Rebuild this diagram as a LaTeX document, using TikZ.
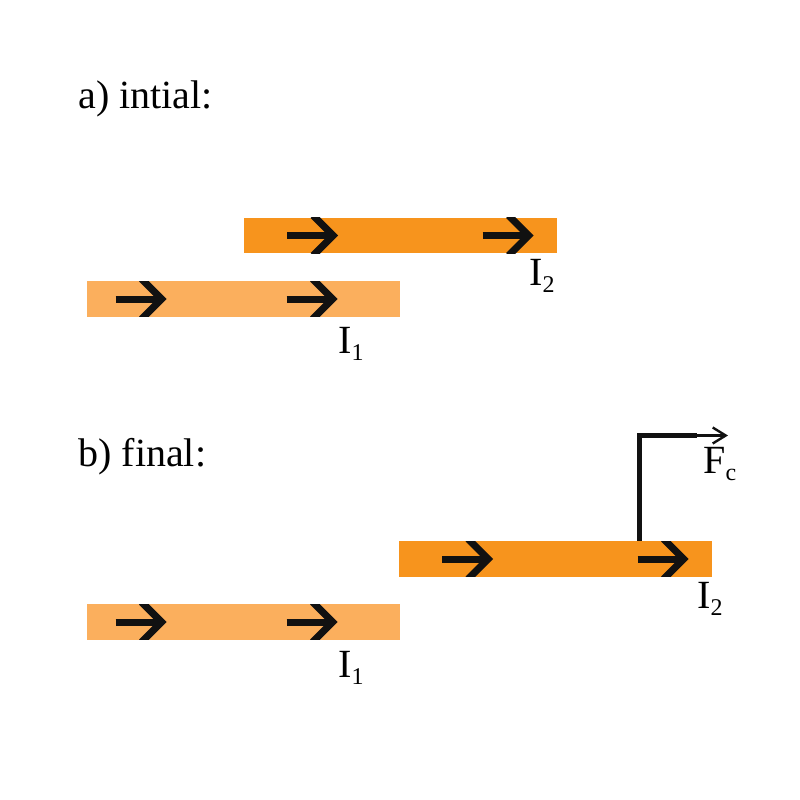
\documentclass[tikz,border=0pt]{standalone}
\usepackage{fontspec}
\setmainfont{Liberation Serif}
\usetikzlibrary{arrows.meta,calc}
\definecolor{wirelight}{HTML}{FBAF5D}
\definecolor{wiredark}{HTML}{F7941D}
\definecolor{ink}{HTML}{111111}
\tikzset{
  font=\fontsize{20}{24}\selectfont,
  wire/.style={inner sep=0pt,minimum width=156.5pt,minimum height=17.75pt},
  shaft/.style={line width=3.5pt,draw=ink},
  barb/.style={line width=3.6pt,draw=ink,line join=miter},
  force/.style={line width=2.5pt,draw=ink,line join=miter},
  fvec/.style={line width=1.2pt,draw=ink,-{Straight Barb[length=6.5pt,width=8pt]}},
  lbl/.style={inner sep=0pt,anchor=base west},
  curarrow/.pic={
    \clip (-2,-17.75) rectangle (60,17.75);
    \draw[shaft] (0,0) -- (44,0);
    \draw[barb] (26,-20) -- (46,0) -- (26,20);
  },
}
\newcommand{\csub}[1]{\raisebox{-3.5pt}{\fontsize{12}{12}\selectfont #1}}

\begin{document}
\begin{tikzpicture}[x=0.5pt,y=-0.5pt]
  \useasboundingbox (0,0) rectangle (800,800);

  % a) two wires, side by side
  \node[lbl] (capa) at (78,108) {a) intial:};
  \node[wire,fill=wiredark] (a2) at (400.5,235.5) {};
  \node[wire,fill=wirelight] (a1) at (243.5,299) {};
  \foreach \dx in {43.5,239} \pic at ($(a2.west)+(\dx,0)$) {curarrow};
  \foreach \dx in {29,200} \pic at ($(a1.west)+(\dx,0)$) {curarrow};
  \node[lbl] (i2a) at (529,285) {I\csub{2}};
  \node[lbl] (i1a) at (338,353) {I\csub{1}};

  % b) upper wire pushed along
  \node[lbl] (capb) at (78,466) {b) final:};
  \node[wire,fill=wiredark] (b2) at (555.5,559) {};
  \node[wire,fill=wirelight] (b1) at (243.5,622) {};
  \foreach \dx in {43.5,239} \pic at ($(b2.west)+(\dx,0)$) {curarrow};
  \foreach \dx in {29,200} \pic at ($(b1.west)+(\dx,0)$) {curarrow};
  \node[lbl] (i2b) at (697,608) {I\csub{2}};
  \node[lbl] (i1b) at (338,677) {I\csub{1}};

  % force on the upper wire
  \coordinate (fkink) at (639.5,435.5);
  \coordinate (ftail) at (697,435.5);
  \draw[force] (b2.north -| fkink) -- (fkink) -- (ftail);
  \draw[fvec] (ftail) -- ++(31,0);
  \node[lbl] (fc) at (703,473) {F\csub{c}};
\end{tikzpicture}
\end{document}
